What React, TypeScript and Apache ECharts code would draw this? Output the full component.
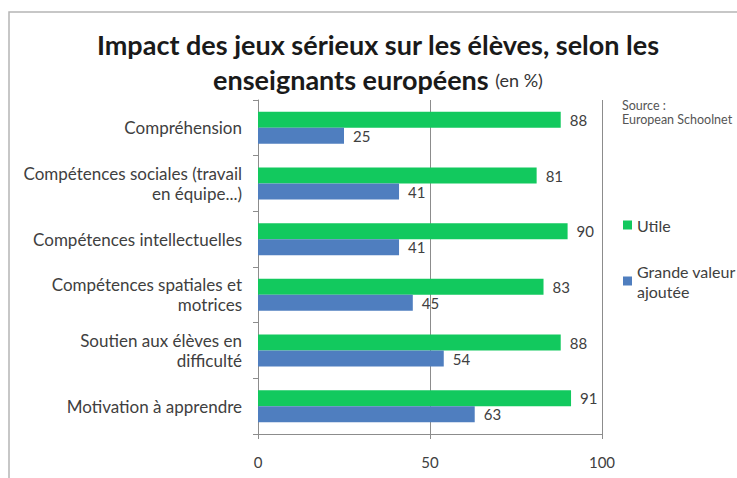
import React, { useEffect, useRef } from "react";
import * as echarts from "echarts";

const categories = [
  "Compréhension",
  "Compétences sociales (travail\nen équipe...)",
  "Compétences intellectuelles",
  "Compétences spatiales et\nmotrices",
  "Soutien aux élèves en\ndifficulté",
  "Motivation à apprendre",
];
const utile = [88, 81, 90, 83, 88, 91];
const grandeValeur = [25, 41, 41, 45, 54, 63];
const seriesNames = ["Utile", "Grande valeur ajoutée"];
const xTicks = [0, 50, 100];

const FONT = "Lato";
const TEXT = "#404040";

export default function App() {
  const ref = useRef<HTMLDivElement>(null);
  useEffect(() => {
    if (!ref.current) return;
    const chart = echarts.init(ref.current, undefined, { renderer: "svg" });
    chart.setOption({
      animation: false,
      backgroundColor: "#ffffff",
      textStyle: { fontFamily: FONT },
      title: {
        text: "Impact des jeux sérieux sur les élèves, selon les\n{b|enseignants européens} {s|(en %)}",
        left: 378,
        textAlign: "center",
        top: 27,
        padding: 0,
        textStyle: {
          fontFamily: FONT,
          fontSize: 27,
          fontWeight: "bold",
          color: "#1a1a1a",
          lineHeight: 35,
          rich: {
            b: { fontFamily: FONT, fontSize: 27, fontWeight: "bold", color: "#1a1a1a", lineHeight: 35 },
            s: { fontFamily: FONT, fontSize: 18, fontWeight: "normal", color: "#333", lineHeight: 35 },
          },
        },
      },
      legend: [
        {
          data: [seriesNames[0]],
          left: 618,
          top: 210,
          itemWidth: 9,
          itemHeight: 9,
          icon: "rect",
          textStyle: { fontFamily: FONT, fontSize: 16, color: TEXT, lineHeight: 20 },
        },
        {
          data: [seriesNames[1]],
          left: 618,
          top: 246,
          itemWidth: 9,
          itemHeight: 9,
          icon: "rect",
          formatter: (n: string) => n.replace("valeur ", "valeur\n"),
          textStyle: { fontFamily: FONT, fontSize: 16, color: TEXT, lineHeight: 20, padding: [20, 0, 0, 0] },
        },
      ],
      grid: { left: 258, right: 135, top: 100, bottom: 44, containLabel: false },
      xAxis: {
        type: "value",
        min: 0,
        max: 100,
        interval: 50,
        axisLine: { show: true, lineStyle: { color: "#8c8c8c" } },
        axisTick: { show: true, length: 5, lineStyle: { color: "#8c8c8c" } },
        axisLabel: {
          fontFamily: FONT,
          fontSize: 15,
          color: TEXT,
          margin: 20,
          formatter: (v: number) => (xTicks.includes(v) ? String(v) : ""),
        },
        splitLine: { show: true, lineStyle: { color: "#8c8c8c" } },
      },
      yAxis: {
        type: "category",
        inverse: true,
        data: categories,
        axisLine: { show: true, lineStyle: { color: "#8c8c8c" } },
        axisTick: { show: true, length: 5, lineStyle: { color: "#8c8c8c" } },
        axisLabel: {
          fontFamily: FONT,
          fontSize: 17,
          color: TEXT,
          margin: 16,
          lineHeight: 20,
          align: "right",
        },
      },
      series: [
        {
          name: seriesNames[0],
          type: "bar",
          data: utile,
          barWidth: 16,
          barGap: "0%",
          itemStyle: { color: "#12C95E" },
          label: { show: true, position: "right", distance: 9, fontFamily: FONT, fontSize: 15, color: TEXT },
        },
        {
          name: seriesNames[1],
          type: "bar",
          data: grandeValeur,
          barWidth: 16,
          barGap: "0%",
          itemStyle: { color: "#4F7EBF" },
          label: { show: true, position: "right", distance: 9, fontFamily: FONT, fontSize: 15, color: TEXT },
        },
      ],
      graphic: [
        {
          type: "rect",
          shape: { x: 9, y: 12, width: 800, height: 600 },
          style: { fill: "none", stroke: "#b5b5b5", lineWidth: 1.5 },
          silent: true,
        },
        {
          type: "text",
          x: 622,
          y: 98,
          style: {
            text: "Source :\nEuropean Schoolnet",
            fontFamily: FONT,
            fontSize: 12.5,
            lineHeight: 14,
            fill: "#555",
          },
        },
      ],
    });
    return () => chart.dispose();
  }, []);
  return <div ref={ref} style={{ position: "fixed", left: 0, top: 0, width: 737, height: 478 }} />;
}
